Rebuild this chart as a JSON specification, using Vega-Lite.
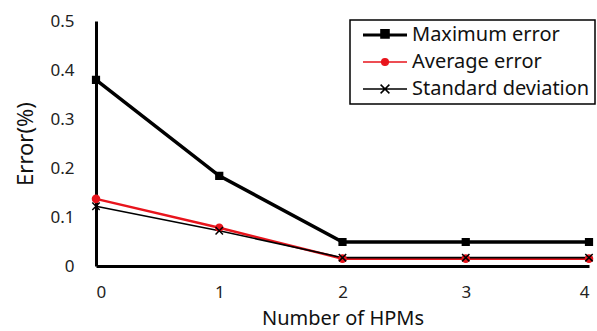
{
  "$schema": "https://vega.github.io/schema/vega-lite/v6.json",
  "width": 493,
  "height": 245,
  "autosize": {"type": "none"},
  "padding": {"left": 96, "top": 21, "right": 8, "bottom": 65},
  "config": {"view": {"stroke": null}, "font": "Noto Sans"},
  "resolve": {"scale": {"color": "independent"}, "legend": {"color": "independent"}},
  "data": {
    "values": [
      {"n": 0, "series": "Maximum error", "error": 0.38},
      {"n": 1, "series": "Maximum error", "error": 0.184},
      {"n": 2, "series": "Maximum error", "error": 0.049},
      {"n": 3, "series": "Maximum error", "error": 0.049},
      {"n": 4, "series": "Maximum error", "error": 0.049},
      {"n": 0, "series": "Average error", "error": 0.137},
      {"n": 1, "series": "Average error", "error": 0.078},
      {"n": 2, "series": "Average error", "error": 0.015},
      {"n": 3, "series": "Average error", "error": 0.015},
      {"n": 4, "series": "Average error", "error": 0.015},
      {"n": 0, "series": "Standard deviation", "error": 0.122},
      {"n": 1, "series": "Standard deviation", "error": 0.072},
      {"n": 2, "series": "Standard deviation", "error": 0.017},
      {"n": 3, "series": "Standard deviation", "error": 0.017},
      {"n": 4, "series": "Standard deviation", "error": 0.017}
    ]
  },
  "encoding": {
    "x": {
      "field": "n",
      "type": "quantitative",
      "scale": {"domain": [0, 4], "nice": false, "zero": false},
      "axis": {
        "title": "Number of HPMs",
        "values": [0, 1, 2, 3, 4],
        "format": "d",
        "grid": false,
        "ticks": false,
        "domainColor": "black",
        "domainWidth": 3,
        "labelFontSize": 17,
        "labelColor": "#222222",
        "labelPadding": 18,
        "titleFontSize": 20,
        "titleFontWeight": "normal",
        "titleColor": "#111111",
        "titleBaseline": "alphabetic",
        "titleY": 58
      }
    },
    "y": {
      "field": "error",
      "type": "quantitative",
      "scale": {"domain": [0, 0.5], "nice": false},
      "axis": {
        "title": "Error(%)",
        "values": [0, 0.1, 0.2, 0.3, 0.4, 0.5],
        "format": ".1~f",
        "grid": false,
        "ticks": false,
        "domainColor": "black",
        "domainWidth": 3,
        "labelFontSize": 17,
        "labelColor": "#222222",
        "labelPadding": 22,
        "titleFontSize": 22,
        "titleFontWeight": "normal",
        "titleColor": "#111111",
        "titlePadding": 12
      }
    }
  },
  "layer": [
    {
      "mark": {"type": "line"},
      "encoding": {
        "color": {
          "field": "series",
          "type": "nominal",
          "scale": {"domain": ["Maximum error", "Average error", "Standard deviation"], "range": ["#000000", "#e8141c", "#000000"]},
          "legend": {
            "orient": "none",
            "legendX": 254,
            "legendY": -1,
            "title": null,
            "padding": 5,
            "strokeColor": "black",
            "labelFontSize": 20,
            "labelColor": "#111111",
            "labelFont": "Noto Sans",
            "labelLimit": 400,
            "symbolSize": 1936,
            "symbolOffset": 20,
            "labelOffset": 17,
            "rowPadding": 7,
            "encode": {
              "legend": {"update": {"strokeWidth": {"value": 1.5}}},
              "symbols": {
                "update": {
                  "shape": {"signal": "datum.value === 'Maximum error' ? 'M-1,0H1M-0.15,-0.2H0.15V0.1H-0.15Z' : datum.value === 'Average error' ? 'M-1,0H1M-0.15,0A0.15,0.15 0 1,1 0.15,0A0.15,0.15 0 1,1 -0.15,0Z' : 'M-1,0H1M-0.2,-0.2L0.2,0.2M-0.2,0.2L0.2,-0.2'"},
                  "size": {"value": 1936},
                  "fill": {"signal": "datum.value === 'Average error' ? '#e8141c' : '#000000'"},
                  "stroke": {"signal": "datum.value === 'Average error' ? '#e8141c' : '#000000'"},
                  "strokeWidth": {"signal": "datum.value === 'Maximum error' ? 3 : 1.5"},
                  "opacity": {"value": 1}
                }
              }
            }
          }
        },
        "strokeWidth": {
          "field": "series",
          "type": "nominal",
          "scale": {"domain": ["Maximum error", "Average error", "Standard deviation"], "range": [3.5, 1.6, 1.2]},
          "legend": null
        }
      }
    },
    {
      "mark": {"type": "point", "filled": true, "opacity": 1, "strokeWidth": 1.5},
      "encoding": {
        "color": {
          "field": "series",
          "type": "nominal",
          "scale": {"domain": ["Maximum error", "Average error", "Standard deviation"], "range": ["#000000", "#e8141c", "#000000"]},
          "legend": null
        },
        "stroke": {
          "field": "series",
          "type": "nominal",
          "scale": {"domain": ["Maximum error", "Average error", "Standard deviation"], "range": ["#000000", "#e8141c", "#000000"]},
          "legend": null
        },
        "shape": {
          "field": "series",
          "type": "nominal",
          "scale": {"domain": ["Maximum error", "Average error", "Standard deviation"], "range": ["square", "circle", "M-1,-1L1,1M-1,1L1,-1"]},
          "legend": null
        },
        "size": {
          "field": "series",
          "type": "nominal",
          "scale": {"domain": ["Maximum error", "Average error", "Standard deviation"], "range": [45, 55, 110]},
          "legend": null
        }
      }
    }
  ]
}
